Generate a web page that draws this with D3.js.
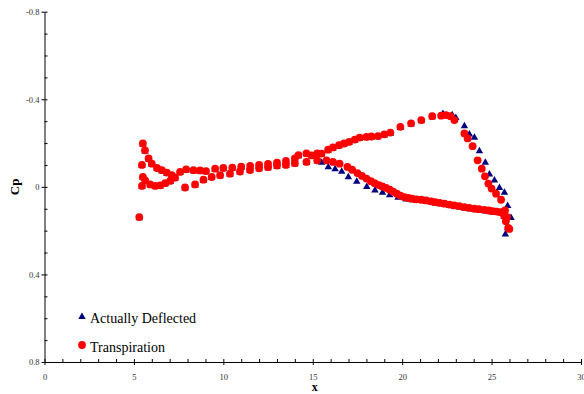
<!DOCTYPE html>
<html>
<head>
<meta charset="utf-8">
<script src="https://cdn.jsdelivr.net/npm/d3@7"></script>
<style>
  body { margin: 0; background: #fff; }
  svg { display: block; font-family: "Liberation Serif", "Times New Roman", serif; }
</style>
</head>
<body>
<div id="chart"></div>
<script>
// Transpiration (circles)
const transX = [
  5.30, 5.45, 5.45, 5.50, 5.62, 5.50, 5.63, 5.82, 5.91, 6.00, 6.19, 6.29, 6.47, 6.56, 6.75, 6.84,
  7.03, 7.12, 7.30, 7.58, 7.86, 7.92, 8.33, 8.42, 8.70, 8.89, 9.03, 9.35, 9.54, 9.82, 10.00, 10.37,
  10.50, 10.93, 11.00, 11.49, 11.50, 12.00, 12.00, 12.50, 12.50, 13.00, 13.00, 13.50, 13.50, 14.00,
  14.00, 14.20, 14.65, 14.65, 14.93, 15.25, 15.25,
  15.49, 15.86, 16.13, 16.47, 16.75, 17.03, 17.35, 17.62, 18.00, 18.28, 18.65, 19.00, 19.34, 19.90,
  20.50, 21.07, 21.68, 22.18, 22.45, 22.70, 22.92, 23.48, 23.66, 23.94, 24.22, 24.45, 24.63, 24.82,
  25.00, 25.25, 25.53, 25.75, 25.86, 25.93,
  15.77, 16.13, 16.50, 16.94, 17.20, 17.50, 17.75, 18.00, 18.25, 18.46, 18.70, 18.89, 19.10, 19.30,
  19.50, 19.70, 19.90, 20.13, 20.35, 20.56, 20.80, 21.07, 21.35, 21.62, 21.85, 22.10, 22.37, 22.65,
  22.92, 23.20, 23.48, 23.75, 24.04, 24.30, 24.60, 24.85, 25.06, 25.30, 25.53, 25.70, 25.80, 25.99
];
const transCp = [
  0.138, -0.004, -0.100, -0.198, -0.167, -0.045, -0.030, -0.130, -0.011, -0.106, -0.004, -0.086, -0.007, -0.076, -0.017, -0.065,
  -0.027, -0.053, -0.042, -0.068, 0.003, -0.080, -0.076, -0.011, -0.075, -0.033, -0.072, -0.045, -0.083, -0.053, -0.086, -0.060,
  -0.088, -0.070, -0.092, -0.077, -0.096, -0.085, -0.100, -0.090, -0.105, -0.097, -0.110, -0.100, -0.118, -0.108,
  -0.130, -0.145, -0.114, -0.153, -0.144, -0.121, -0.153,
  -0.152, -0.170, -0.180, -0.190, -0.198, -0.205, -0.216, -0.225, -0.228, -0.230, -0.232, -0.240, -0.248, -0.274,
  -0.290, -0.305, -0.323, -0.325, -0.328, -0.323, -0.305, -0.244, -0.221, -0.186, -0.121, -0.083, -0.048, -0.015,
  0.008, 0.031, 0.059, 0.108, 0.138, 0.187,
  -0.121, -0.114, -0.106, -0.091, -0.078, -0.063, -0.050, -0.038, -0.026, -0.017, -0.008, -0.002, 0.005, 0.013,
  0.022, 0.031, 0.040, 0.047, 0.051, 0.054, 0.057, 0.059, 0.062, 0.066, 0.070, 0.073, 0.077, 0.081,
  0.085, 0.088, 0.093, 0.096, 0.100, 0.102, 0.105, 0.108, 0.111, 0.113, 0.116, 0.131, 0.157, 0.192
];

// Actually Deflected (triangles)
const deflX = [
  5.30, 5.45, 5.45, 5.50, 5.62, 5.50, 5.63, 5.82, 5.91, 6.00, 6.19, 6.29, 6.47, 6.56, 6.75, 6.84,
  7.03, 7.12, 7.30, 7.58, 7.86, 7.92, 8.33, 8.42, 8.70, 8.89, 9.03, 9.35, 9.54, 9.82, 10.00, 10.37,
  10.50, 10.93, 11.00, 11.49, 11.50, 12.00, 12.00, 12.50, 12.50, 13.00, 13.00, 13.50, 13.50, 14.00,
  14.00, 14.20, 14.65, 14.65, 14.93, 15.25, 15.25,
  15.49, 15.86, 16.13, 16.47, 16.75, 17.03, 17.35, 17.62, 18.00, 18.28, 18.65, 19.00, 19.34, 19.90,
  20.50, 21.07, 21.68, 22.28, 22.80, 23.00, 23.48, 23.76, 24.04, 24.32, 24.65, 24.88, 25.16, 25.44,
  25.72, 25.90, 26.09,
  15.50, 15.87, 16.25, 16.62, 16.99, 17.46, 18.02, 18.48, 18.90, 19.30, 19.77, 20.23, 20.56, 20.80,
  21.07, 21.35, 21.62, 21.85, 22.10, 22.37, 22.65, 22.92, 23.20, 23.48, 23.75, 24.04, 24.30, 24.60,
  24.85, 25.06, 25.30, 25.53, 25.70, 25.90, 25.77
];
const deflCp = [
  0.138, -0.004, -0.100, -0.198, -0.167, -0.045, -0.030, -0.130, -0.011, -0.106, -0.004, -0.086, -0.007, -0.076, -0.017, -0.065,
  -0.027, -0.053, -0.042, -0.068, 0.003, -0.080, -0.076, -0.011, -0.075, -0.033, -0.072, -0.045, -0.083, -0.053, -0.086, -0.060,
  -0.088, -0.070, -0.092, -0.077, -0.096, -0.085, -0.100, -0.090, -0.105, -0.097, -0.110, -0.100, -0.118, -0.108,
  -0.130, -0.145, -0.114, -0.153, -0.144, -0.121, -0.153,
  -0.152, -0.170, -0.180, -0.190, -0.198, -0.205, -0.216, -0.225, -0.228, -0.230, -0.232, -0.240, -0.248, -0.274,
  -0.290, -0.305, -0.323, -0.338, -0.332, -0.320, -0.282, -0.244, -0.229, -0.168, -0.115, -0.061, -0.034, 0.000,
  0.022, 0.083, 0.137,
  -0.115, -0.095, -0.085, -0.074, -0.049, -0.028, -0.004, 0.012, 0.022, 0.033, 0.045, 0.053, 0.056, 0.058,
  0.060, 0.063, 0.067, 0.071, 0.074, 0.078, 0.082, 0.086, 0.089, 0.094, 0.097, 0.101, 0.103, 0.106,
  0.109, 0.112, 0.114, 0.117, 0.132, 0.184, 0.213
];

const xTicks = [0, 5, 10, 15, 20, 25, 30];
const yTicks = [-0.8, -0.4, 0, 0.4, 0.8];
const legendLabels = ["Actually Deflected", "Transpiration"];

const width = 584, height = 394;

const svg = d3.select("#chart").append("svg")
  .attr("width", width)
  .attr("height", height);

const x = d3.scaleLinear().domain([0, 30]).range([44.5, 581]);
const y = d3.scaleLinear().domain([-0.8, 0.8]).range([11.7, 362]);

const tickFont = (g) => g.selectAll("text")
  .attr("font-family", "Liberation Serif, Times New Roman, serif")
  .attr("font-size", 8.5)
  .attr("fill", "#333");

// x axis: minor ticks inward, major ticks crossing
svg.append("g")
  .attr("transform", `translate(0,${y(0.8)})`)
  .call(d3.axisBottom(x).ticks(30).tickSize(-3).tickSizeOuter(0).tickFormat(""));
svg.append("g")
  .attr("transform", `translate(0,${y(0.8)})`)
  .call(d3.axisBottom(x).tickValues(xTicks).tickSize(3).tickSizeOuter(0).tickPadding(9).tickFormat(String))
  .call(tickFont)
  .call((g) => g.select(".domain").remove());

// y axis
svg.append("g")
  .attr("transform", `translate(${x(0)},0)`)
  .call(d3.axisLeft(y).ticks(16).tickSize(-3).tickSizeOuter(0).tickFormat(""));
svg.append("g")
  .attr("transform", `translate(${x(0)},0)`)
  .call(d3.axisLeft(y).tickValues(yTicks).tickSize(3).tickSizeOuter(0).tickPadding(2).tickFormat(String))
  .call(tickFont)
  .call((g) => g.select(".domain").remove());

svg.selectAll(".tick line").attr("stroke", "#000");
svg.selectAll(".domain").attr("stroke", "#000");

// axis titles
svg.append("text")
  .attr("x", (x(0) + x(30)) / 2 + 2)
  .attr("y", 391)
  .attr("text-anchor", "middle")
  .attr("font-size", 12)
  .attr("font-weight", "bold")
  .text("x");

svg.append("text")
  .attr("transform", `translate(19,${y(0)}) rotate(-90)`)
  .attr("text-anchor", "middle")
  .attr("font-size", 13)
  .attr("font-weight", "bold")
  .text("Cp");

const triPath = "M0,-3.4L3.7,3.1L-3.7,3.1Z";

const defl = deflX.map((d, i) => ({ x: d, cp: deflCp[i] }));
const trans = transX.map((d, i) => ({ x: d, cp: transCp[i] }));

svg.append("g").selectAll("path")
  .data(defl)
  .join("path")
  .attr("transform", (d) => `translate(${x(d.x)},${y(d.cp)})`)
  .attr("d", triPath)
  .attr("fill", "#00007f");

svg.append("g").selectAll("circle")
  .data(trans)
  .join("circle")
  .attr("cx", (d) => x(d.x))
  .attr("cy", (d) => y(d.cp))
  .attr("r", 3.9)
  .attr("fill", "#ff0000");

// legend
const legend = svg.append("g");
legend.append("path")
  .attr("transform", "translate(82,316)")
  .attr("d", triPath)
  .attr("fill", "#00007f");
legend.append("circle")
  .attr("cx", 82)
  .attr("cy", 345)
  .attr("r", 3.9)
  .attr("fill", "#ff0000");
legend.selectAll("text")
  .data(legendLabels)
  .join("text")
  .attr("x", 90)
  .attr("y", (d, i) => 323 + i * 29)
  .attr("font-size", 14)
  .attr("fill", "#000")
  .text((d) => d);
</script>
</body>
</html>
